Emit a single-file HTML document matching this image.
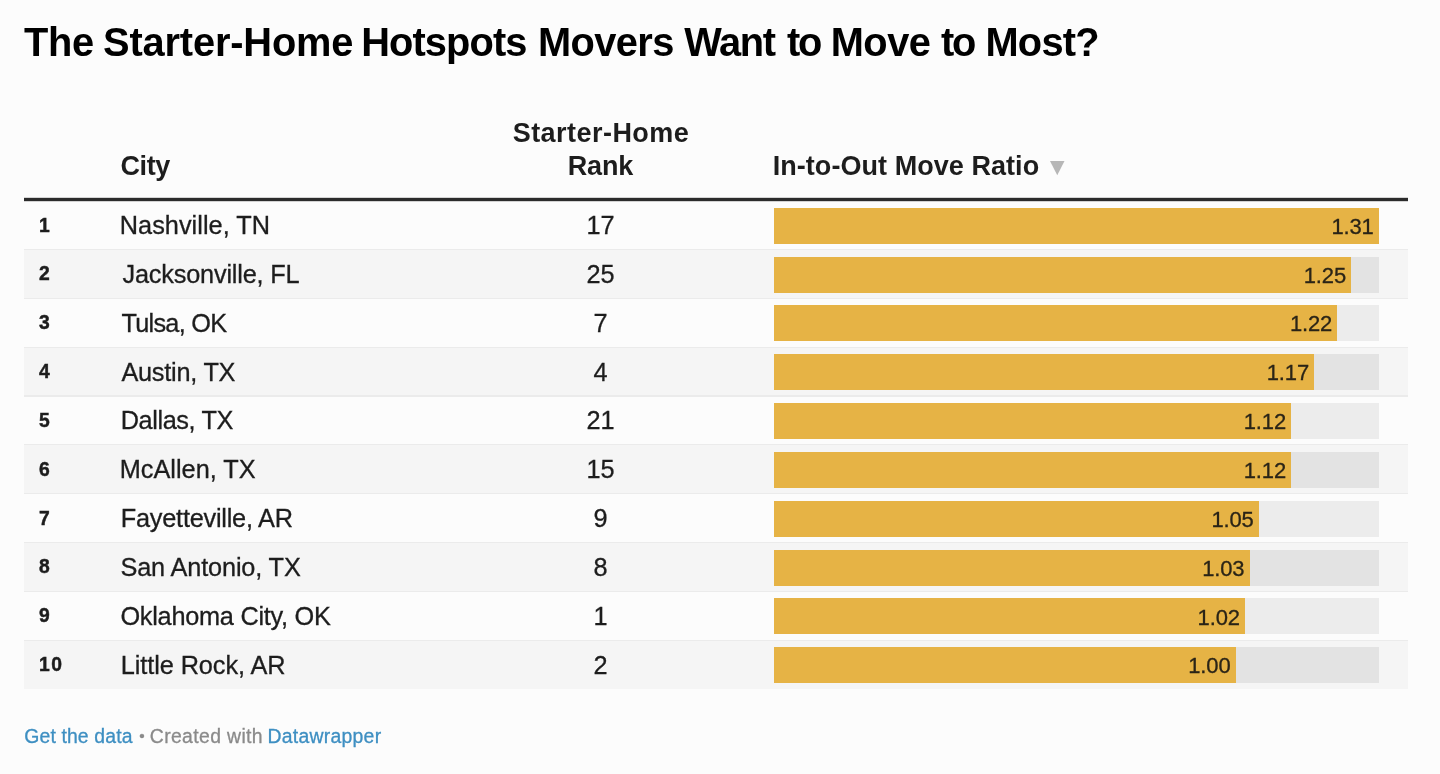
<!DOCTYPE html>
<html lang="en"><head><meta charset="utf-8"><title>The Starter-Home Hotspots Movers Want to Move to Most?</title>
<style>
*{box-sizing:border-box;margin:0;padding:0}
html,body{width:1440px;height:774px;overflow:hidden;background:#fcfcfc}
body{position:relative;font-family:"Liberation Sans",Arial,sans-serif;color:#1f1f1f}
.abs{position:absolute;white-space:nowrap;line-height:1}
h1{position:absolute;left:24px;top:19.8px;width:1100px;height:44px;font-size:39.8px;font-weight:700;line-height:44px;color:#000;white-space:nowrap}
.th{font-weight:700;font-size:27px;color:#1d1d1d}
.hline{position:absolute;left:24px;width:1384px;top:197px;height:5px;background:linear-gradient(#d4d4d4 0,#d4d4d4 1px,#2b2b2b 1px,#2b2b2b 4px,#d2d2d2 4px,#d2d2d2 5px)}
.row{position:absolute;left:24px;width:1384px;height:48.84px}
.row.even{background:#f5f5f5}
.row.sep::before{content:"";position:absolute;left:0;right:0;top:0;height:1.3px;background:#ebebeb}
.idx{position:absolute;left:15px;top:1.2px;height:100%;display:flex;align-items:center;font-weight:700;font-size:19.3px;color:#1d1d1d}
.city,.rank,.val,.ft{-webkit-text-stroke:0.3px currentColor}
.idx{-webkit-text-stroke:0.45px currentColor}
.city{position:absolute;left:96px;top:1.2px;height:100%;display:flex;align-items:center;font-size:25.3px;color:#1d1d1d}
.rank{position:absolute;left:476.5px;width:200px;top:1.2px;height:100%;display:flex;align-items:center;justify-content:center;font-size:25.3px;color:#1d1d1d}
.barbg{position:absolute;left:750px;width:605px;top:7.7px;height:36px;background:#ececec}
.even .barbg{background:#e3e3e3}
.bar{position:absolute;left:0;top:0;height:100%;background:#e6b345}
.val{position:absolute;right:5.3px;top:1.1px;height:100%;display:flex;align-items:center;letter-spacing:-0.15px;font-size:22px;color:#2a2417}
.ft{font-size:19.4px;line-height:24px;color:#8a8a8a}
.ft a{color:#3e8fc2;text-decoration:none}
#wrap{position:absolute;left:0;top:0;width:1440px;height:774px}
</style></head><body><div id="wrap">
<h1><span id="tw0" style="position:absolute;left:0.05px;top:0;letter-spacing:-0.360px">The </span><span id="tw1" style="position:absolute;left:79.10px;top:0;letter-spacing:-0.164px">Starter-Home </span><span id="tw2" style="position:absolute;left:337.18px;top:0;letter-spacing:-0.874px">Hotspots </span><span id="tw3" style="position:absolute;left:513.94px;top:0;letter-spacing:-0.576px">Movers </span><span id="tw4" style="position:absolute;left:660.28px;top:0;letter-spacing:-1.380px">Want </span><span id="tw5" style="position:absolute;left:763.04px;top:0;letter-spacing:-2.340px">to </span><span id="tw6" style="position:absolute;left:806.70px;top:0;letter-spacing:-0.480px">Move </span><span id="tw7" style="position:absolute;left:917.02px;top:0;letter-spacing:-2.340px">to </span><span id="tw8" style="position:absolute;left:961.46px;top:0;letter-spacing:-0.765px">Most?</span></h1>
<div class="abs th" id="h_city" style="margin-left:0.00px;left:120.6px;top:153px;letter-spacing:-0.480px">City</div>
<div class="abs th" id="h_sh" style="margin-left:0.98px;left:400px;width:400px;text-align:center;top:120px;letter-spacing:0.458px">Starter-Home</div>
<div class="abs th" id="h_rank" style="margin-left:0.42px;left:400px;width:400px;text-align:center;top:153px;letter-spacing:-0.180px">Rank</div>
<div class="abs th" id="h_ratio" style="margin-left:0.14px;left:772.5px;top:153px;letter-spacing:0.057px">In-to-Out Move Ratio</div>
<svg class="abs" style="left:1049.5px;top:161.2px" width="15" height="15" viewBox="0 0 15 15"><polygon points="0,0 14.5,0 7.25,14.2" fill="#b7b7b7"/></svg>
<div class="hline"></div>
<div class="row" style="top:200.00px"><div class="idx" id="i0" style="">1</div><div class="city" id="c0" style="margin-left:-0.28px;letter-spacing:0.030px">Nashville, TN</div><div class="rank" id="r0">17</div><div class="barbg"><div class="bar" style="width:605.0px"><div class="val" id="v0">1.31</div></div></div></div>
<div class="row even sep" style="top:248.84px"><div class="idx" id="i1" style="">2</div><div class="city" id="c1" style="margin-left:2.52px;letter-spacing:-0.192px">Jacksonville, FL</div><div class="rank" id="r1">25</div><div class="barbg"><div class="bar" style="width:577.3px"><div class="val" id="v1">1.25</div></div></div></div>
<div class="row sep" style="top:297.68px"><div class="idx" id="i2" style="">3</div><div class="city" id="c2" style="margin-left:1.40px;letter-spacing:-0.720px">Tulsa, OK</div><div class="rank" id="r2">7</div><div class="barbg"><div class="bar" style="width:563.4px"><div class="val" id="v2">1.22</div></div></div></div>
<div class="row even sep" style="top:346.52px"><div class="idx" id="i3" style="">4</div><div class="city" id="c3" style="margin-left:1.40px;letter-spacing:-0.240px">Austin, TX</div><div class="rank" id="r3">4</div><div class="barbg"><div class="bar" style="width:540.3px"><div class="val" id="v3">1.17</div></div></div></div>
<div class="row sep" style="top:395.36px"><div class="idx" id="i4" style="">5</div><div class="city" id="c4" style="margin-left:0.70px;letter-spacing:-0.400px">Dallas, TX</div><div class="rank" id="r4">21</div><div class="barbg"><div class="bar" style="width:517.3px"><div class="val" id="v4">1.12</div></div></div></div>
<div class="row even sep" style="top:444.20px"><div class="idx" id="i5" style="">6</div><div class="city" id="c5" style="margin-left:-0.28px;">McAllen, TX</div><div class="rank" id="r5">15</div><div class="barbg"><div class="bar" style="width:517.3px"><div class="val" id="v5">1.12</div></div></div></div>
<div class="row sep" style="top:493.04px"><div class="idx" id="i6" style="">7</div><div class="city" id="c6" style="margin-left:0.84px;letter-spacing:-0.240px">Fayetteville, AR</div><div class="rank" id="r6">9</div><div class="barbg"><div class="bar" style="width:484.9px"><div class="val" id="v6">1.05</div></div></div></div>
<div class="row even sep" style="top:541.88px"><div class="idx" id="i7" style="">8</div><div class="city" id="c7" style="margin-left:0.42px;letter-spacing:-0.141px">San Antonio, TX</div><div class="rank" id="r7">8</div><div class="barbg"><div class="bar" style="width:475.7px"><div class="val" id="v7">1.03</div></div></div></div>
<div class="row sep" style="top:590.72px"><div class="idx" id="i8" style="">9</div><div class="city" id="c8" style="margin-left:0.42px;letter-spacing:-0.259px">Oklahoma City, OK</div><div class="rank" id="r8">1</div><div class="barbg"><div class="bar" style="width:471.1px"><div class="val" id="v8">1.02</div></div></div></div>
<div class="row even sep" style="top:639.56px;height:49.4px"><div class="idx" id="i9" style="letter-spacing:1.620px">10</div><div class="city" id="c9" style="margin-left:0.84px;letter-spacing:-0.090px">Little Rock, AR</div><div class="rank" id="r9">2</div><div class="barbg"><div class="bar" style="width:461.8px"><div class="val" id="v9">1.00</div></div></div></div>
<div class="abs ft" style="left:24px;top:724px"><a id="f1" style="margin-left:0.28px;letter-spacing:0.131px">Get the data</a></div><div class="abs ft" style="left:139.3px;top:724.3px;font-size:15.5px"><span id="f2">&bull;</span></div><div class="abs ft" style="left:149.5px;top:724px"><span id="f3" style="margin-left:0.28px;letter-spacing:0.360px">Created with</span></div><div class="abs ft" style="left:267.3px;top:724px"><a id="f4" style="margin-left:0.14px;letter-spacing:0.270px">Datawrapper</a></div>
</div></body></html>
